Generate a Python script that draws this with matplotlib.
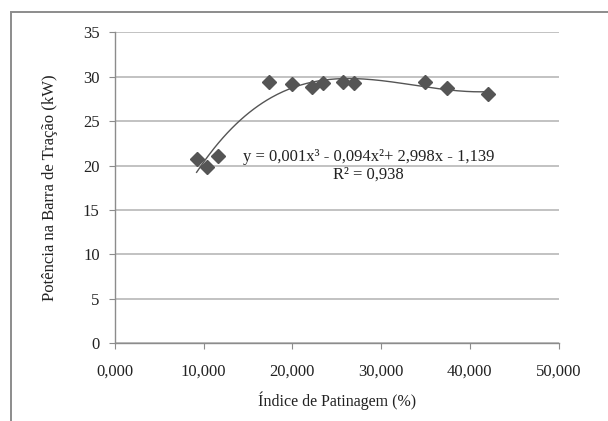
import numpy as np
import matplotlib
matplotlib.use("Agg")
import matplotlib.pyplot as plt
from matplotlib.patches import Rectangle

# Data
patinagem = [9.2, 10.4, 11.6, 17.4, 19.9, 22.2, 23.4, 25.7, 26.9, 35.0, 37.4, 42.1]
potencia = [20.7, 19.8, 21.1, 29.4, 29.2, 28.8, 29.3, 29.4, 29.3, 29.4, 28.7, 28.1]
x_ticks = [0, 10, 20, 30, 40, 50]
x_tick_labels = ["0,000", "10,000", "20,000", "30,000", "40,000", "50,000"]
y_ticks = [0, 5, 10, 15, 20, 25, 30, 35]
equation = "y = 0,001x³ - 0,094x²+ 2,998x - 1,139"
r2_text = "R² = 0,938"

plt.rcParams['font.family'] = ['Liberation Serif', 'DejaVu Serif']
text_color = "#222222"

fig = plt.figure(figsize=(6.08, 4.21), dpi=100)
# chart area border (Excel style), running off the right and bottom edges
fig.patches.append(Rectangle((11 / 608, -0.05), 1.1, 1 - 12.3 / 421 + 0.05,
                             transform=fig.transFigure, fill=False,
                             edgecolor="#8c8c8c", linewidth=1.4))

ax = fig.add_axes([115 / 608, 1 - 343.3 / 421, (558.5 - 115) / 608, (343.3 - 32.3) / 421])

# cubic trend line
coef = np.polyfit(patinagem, potencia, 3)
xs = np.linspace(min(patinagem), max(patinagem), 200)
ax.plot(xs, np.polyval(coef, xs), color="#555555", linewidth=1.0, zorder=2)

ax.plot(patinagem, potencia, linestyle="none", marker="D", markersize=7.5,
        color="#555555", zorder=3)

ax.set_xlim(0, 50)
ax.set_ylim(0, 35)
ax.set_xticks(x_ticks)
ax.set_xticklabels(x_tick_labels)
ax.set_yticks(y_ticks)
ax.yaxis.grid(True, color="#b8b8b8", linewidth=1.2)
ax.set_axisbelow(True)
for side in ("top", "right"):
    ax.spines[side].set_visible(False)
for side in ("left", "bottom"):
    ax.spines[side].set_color("#8c8c8c")
    ax.spines[side].set_linewidth(1.0)
ax.tick_params(direction="out", length=4, color="#8c8c8c", labelsize=12,
               labelcolor=text_color)
ax.tick_params(axis="x", pad=11)
ax.tick_params(axis="y", pad=7)

ax.set_xlabel("Índice de Patinagem (%)", fontsize=11.5, color=text_color, labelpad=8)
ax.set_ylabel("Potência na Barra de Tração (kW)", fontsize=12, color=text_color, labelpad=18)

ax.text(28.6, 21.0, equation, ha="center", va="center", fontsize=12, color=text_color)
ax.text(28.6, 19.0, r2_text, ha="center", va="center", fontsize=12, color=text_color)

fig.savefig("out.png", dpi=100)
